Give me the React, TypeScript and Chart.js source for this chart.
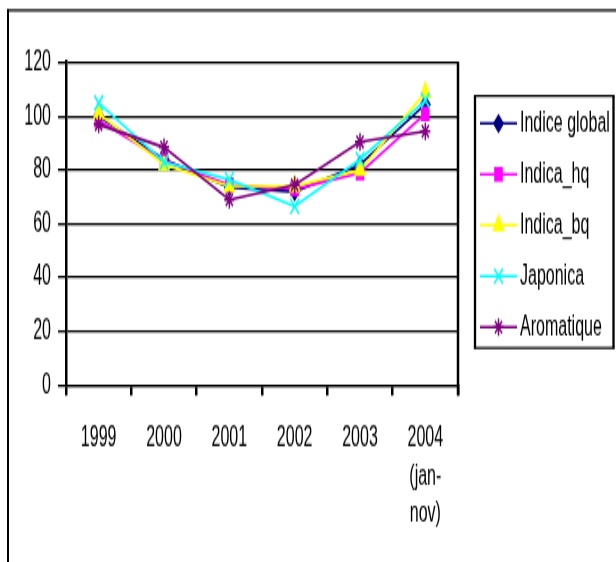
import React, { useEffect, useRef } from 'react';
import { Chart, registerables } from 'chart.js';

Chart.register(...registerables);

// ---- data ----
const categories: (string | string[])[] = ['1999', '2000', '2001', '2002', '2003', ['2004', '(jan-', 'nov)']];
const seriesNames = ['Indice global', 'Indica_hq', 'Indica_bq', 'Japonica', 'Aromatique'];
const indiceGlobal = [100, 84, 73.5, 72, 82, 104.5];
const indicaHq = [98.5, 83.5, 74.5, 73, 79, 101];
const indicaBq = [101, 82, 74, 74, 80, 109];
const japonica = [105, 83, 76.5, 66.5, 84, 106];
const aromatique = [97, 88.5, 69, 74.5, 90.5, 94.5];
const yMin = 0;
const yMax = 120;
const yStep = 20;

const seriesValues = [indiceGlobal, indicaHq, indicaBq, japonica, aromatique];
const seriesColors = ['#000080', '#FF00FF', '#FFFF00', '#00FFFF', '#800080'];
const seriesMarkers = ['rectRot', 'rect', 'triangle', 'crossRot', 'star'];
const seriesRadius = [4.5, 5, 5.5, 6, 5];

// ---- layout (canvas drawn at reduced height, stretched vertically like the source) ----
const W = 616;
const H = 320;
const DISPLAY_H = 562;
const S = DISPLAY_H / H;
const FONT = "'Liberation Sans', Arial, sans-serif";

function drawMarker(ctx: CanvasRenderingContext2D, style: string, x: number, y: number, r: number, color: string) {
  ctx.save();
  ctx.fillStyle = color;
  ctx.strokeStyle = color;
  ctx.lineWidth = 1.5;
  ctx.beginPath();
  const d = r * Math.SQRT1_2;
  if (style === 'rectRot') {
    ctx.moveTo(x, y - r);
    ctx.lineTo(x + r, y);
    ctx.lineTo(x, y + r);
    ctx.lineTo(x - r, y);
    ctx.closePath();
    ctx.fill();
    ctx.stroke();
  } else if (style === 'rect') {
    ctx.rect(x - d, y - d, 2 * d, 2 * d);
    ctx.fill();
    ctx.stroke();
  } else if (style === 'triangle') {
    ctx.moveTo(x, y - r);
    ctx.lineTo(x + r * 0.866, y + r * 0.5);
    ctx.lineTo(x - r * 0.866, y + r * 0.5);
    ctx.closePath();
    ctx.fill();
    ctx.stroke();
  } else if (style === 'crossRot') {
    ctx.moveTo(x - d, y - d);
    ctx.lineTo(x + d, y + d);
    ctx.moveTo(x + d, y - d);
    ctx.lineTo(x - d, y + d);
    ctx.stroke();
  } else {
    ctx.moveTo(x - d, y - d);
    ctx.lineTo(x + d, y + d);
    ctx.moveTo(x + d, y - d);
    ctx.lineTo(x - d, y + d);
    ctx.moveTo(x - r, y);
    ctx.lineTo(x + r, y);
    ctx.moveTo(x, y - r);
    ctx.lineTo(x, y + r);
    ctx.stroke();
  }
  ctx.restore();
}

const framePlugin = {
  id: 'frame',
  beforeDraw(chart: any) {
    const ctx: CanvasRenderingContext2D = chart.ctx;
    ctx.save();
    ctx.fillStyle = '#ffffff';
    ctx.fillRect(0, 0, chart.width, chart.height);
    ctx.strokeStyle = '#000';
    ctx.lineWidth = 2;
    ctx.beginPath();
    ctx.moveTo(8, 10.3 / S - 0.6);
    ctx.lineTo(8, chart.height);
    ctx.stroke();
    ctx.lineWidth = 2 / S;
    ctx.beginPath();
    ctx.moveTo(7, 10.3 / S);
    ctx.lineTo(chart.width, 10.3 / S);
    ctx.stroke();
    ctx.restore();
  },
  afterDraw(chart: any) {
    const ctx: CanvasRenderingContext2D = chart.ctx;
    const area = chart.chartArea;
    ctx.save();
    ctx.strokeStyle = '#000';
    // right edge of plot area
    ctx.lineWidth = 2.5;
    ctx.beginPath();
    ctx.moveTo(area.right, area.top - 0.6);
    ctx.lineTo(area.right, area.bottom + 6);
    ctx.stroke();

    // legend box
    const bl = 475, br = 613.5, bt = 96 / S, bb = 348 / S;
    ctx.lineWidth = 2.3;
    ctx.beginPath();
    ctx.moveTo(bl, bt);
    ctx.lineTo(bl, bb);
    ctx.moveTo(br, bt);
    ctx.lineTo(br, bb);
    ctx.stroke();
    ctx.lineWidth = 2.3 / S;
    ctx.beginPath();
    ctx.moveTo(bl - 1.15, bt);
    ctx.lineTo(br + 1.15, bt);
    ctx.moveTo(bl - 1.15, bb);
    ctx.lineTo(br + 1.15, bb);
    ctx.stroke();

    // legend entries
    chart.data.datasets.forEach((ds: any, i: number) => {
      const y = (123.5 + i * 50.9) / S;
      ctx.strokeStyle = ds.borderColor;
      ctx.lineWidth = 1.5;
      ctx.beginPath();
      ctx.moveTo(480, y);
      ctx.lineTo(517, y);
      ctx.stroke();
      drawMarker(ctx, ds.pointStyle, 498.5, y, ds.pointRadius, ds.borderColor);
      ctx.fillStyle = '#000';
      ctx.font = `16px ${FONT}`;
      ctx.textAlign = 'left';
      ctx.textBaseline = 'middle';
      ctx.fillText(ds.label, 520, y + 0.7);
    });
    ctx.restore();
  },
};

export default function App() {
  const ref = useRef<HTMLCanvasElement | null>(null);

  useEffect(() => {
    if (!ref.current) return;
    const datasets = seriesNames.map((name, i) => ({
      label: name,
      data: seriesValues[i],
      borderColor: seriesColors[i],
      backgroundColor: seriesColors[i],
      borderWidth: 1.6,
      pointStyle: seriesMarkers[i],
      pointRadius: seriesRadius[i],
      pointBorderWidth: 1.5,
      pointBackgroundColor: seriesColors[i],
      pointBorderColor: seriesColors[i],
      tension: 0,
      order: seriesNames.length - 1 - i,
    }));

    const chart = new Chart(ref.current, {
      type: 'line',
      data: { labels: categories as any, datasets: datasets as any },
      options: {
        animation: false,
        responsive: false,
        devicePixelRatio: 1,
        events: [],
        layout: { padding: { left: 0, right: W - 458, top: 62.7 / S, bottom: 0 } },
        plugins: {
          legend: { display: false },
          tooltip: { enabled: false },
          title: { display: false },
        },
        scales: {
          x: {
            type: 'category',
            offset: true,
            grid: {
              offset: true,
              drawOnChartArea: false,
              drawTicks: true,
              tickLength: 6,
              color: '#000',
              lineWidth: 2.5,
            },
            border: { display: true, color: '#000', width: 2.3 / S },
            ticks: {
              color: '#000',
              font: { family: FONT, size: 16, lineHeight: 1.334 },
              padding: 14,
              maxRotation: 0,
              minRotation: 0,
              autoSkip: false,
            },
            afterFit(scale: any) {
              scale.height = H - 385 / S;
            },
          },
          y: {
            min: yMin,
            max: yMax,
            ticks: {
              stepSize: yStep,
              color: '#000',
              font: { family: FONT, size: 16 },
              padding: 7,
            },
            grid: {
              color: '#000',
              lineWidth: 2.3 / S,
              tickLength: 8,
              drawTicks: true,
            },
            border: { display: true, color: '#000', width: 2.5 },
            afterFit(scale: any) {
              scale.width = 66;
            },
          },
        },
      },
      plugins: [framePlugin],
    });
    return () => chart.destroy();
  }, []);

  return (
    <div style={{ position: 'absolute', left: 0, top: 0, width: W, height: DISPLAY_H, overflow: 'hidden', background: '#fff' }}>
      <canvas
        ref={ref}
        width={W}
        height={H}
        style={{ width: `${W}px`, height: `${DISPLAY_H}px`, display: 'block' }}
      />
    </div>
  );
}
